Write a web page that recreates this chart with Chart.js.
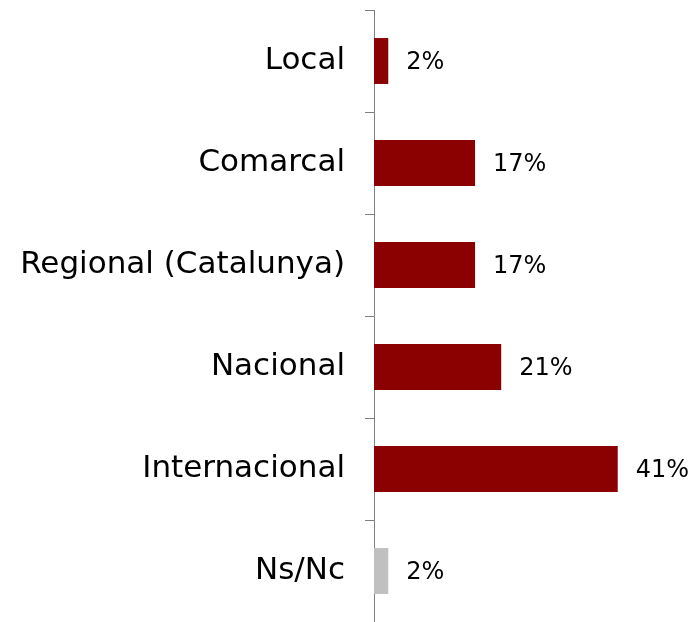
<!DOCTYPE html>
<html>
<head>
<meta charset="utf-8">
<script src="https://cdn.jsdelivr.net/npm/chart.js@4/dist/chart.umd.min.js"></script>
<style>
  html, body { margin: 0; padding: 0; background: #fff; overflow: hidden; }
  #wrap { width: 695px; height: 622px; }
</style>
</head>
<body>
<div id="wrap"><canvas id="abastChart"></canvas></div>
<script>
const categories = ['Local', 'Comarcal', 'Regional (Catalunya)', 'Nacional', 'Internacional', 'Ns/Nc'];
const percentages = [2.4, 17, 17, 21.4, 41, 2.4];
const barColors = ['#8b0000', '#8b0000', '#8b0000', '#8b0000', '#8b0000', '#c0c0c0'];

const fontFamily = '"DejaVu Sans", sans-serif';

// draws the "NN%" text to the right of every bar
const valueLabels = {
    id: 'valueLabels',
    afterDatasetsDraw(chart) {
        const ctx = chart.ctx;
        const meta = chart.getDatasetMeta(0);
        ctx.save();
        ctx.font = '24px ' + fontFamily;
        ctx.fillStyle = '#000';
        ctx.textAlign = 'left';
        ctx.textBaseline = 'middle';
        meta.data.forEach(function (bar, i) {
            ctx.fillText(Math.round(percentages[i]) + '%', bar.x + 18, bar.y + 2);
        });
        ctx.restore();
    }
};

const ctx = document.getElementById('abastChart').getContext('2d');
const abastChart = new Chart(ctx, {
    type: 'bar',
    data: {
        labels: categories,
        datasets: [{
            data: percentages,
            backgroundColor: barColors,
            borderWidth: 0,
            categoryPercentage: 1,
            barPercentage: 0.45
        }]
    },
    options: {
        indexAxis: 'y',
        responsive: true,
        maintainAspectRatio: false,
        animation: false,
        layout: { padding: { top: 10, right: 0, bottom: 0, left: 0 } },
        plugins: {
            legend: { display: false },
            tooltip: { enabled: false }
        },
        scales: {
            x: {
                display: false,
                min: 0,
                max: 54
            },
            y: {
                afterFit: function (scale) {
                    scale.width = 374;
                    scale.paddingTop = 0;
                    scale.paddingBottom = 0;
                },
                grid: {
                    offset: true,
                    drawOnChartArea: false,
                    tickLength: 9,
                    color: '#808080'
                },
                border: { color: '#808080', width: 1 },
                ticks: {
                    padding: 20,
                    color: '#000',
                    font: { family: fontFamily, size: 31 }
                }
            }
        }
    },
    plugins: [valueLabels]
});
</script>
</body>
</html>
